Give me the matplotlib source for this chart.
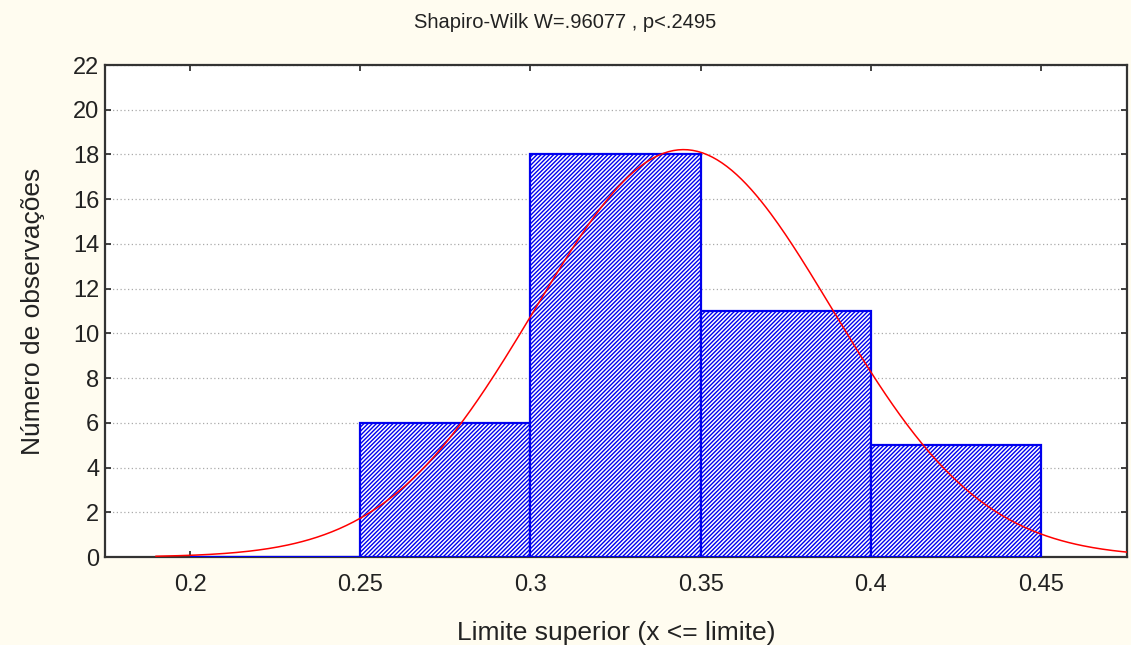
import numpy as np
import matplotlib.pyplot as plt

plt.rcParams['font.family'] = ['Liberation Sans', 'DejaVu Sans']
plt.rcParams['hatch.linewidth'] = 1.0
plt.rcParams['hatch.color'] = '#0000ee'

# histogram: upper limits of each class and counts
bin_left = [0.20, 0.25, 0.30, 0.35, 0.40]
counts = [0, 6, 18, 11, 5]
bin_width = 0.05
n_obs = 40

# fitted normal curve parameters
mu = 0.345
sigma = 0.0438

x_ticks = [0.2, 0.25, 0.3, 0.35, 0.4, 0.45]
x_tick_labels = ['0.2', '0.25', '0.3', '0.35', '0.4', '0.45']
y_ticks = list(range(0, 23, 2))

bg = '#fffcf0'
fig = plt.figure(figsize=(11.31, 6.45), dpi=100, facecolor=bg)
ax = fig.add_axes([105 / 1131, 1 - 557 / 645, 1022 / 1131, 492 / 645])
ax.set_facecolor('white')

ax.bar(bin_left, counts, width=bin_width, align='edge', facecolor='white',
       edgecolor='#0000ee', linewidth=1.6, hatch='/' * 8, zorder=3)

xs = np.linspace(0.19, 0.476, 400)
ys = n_obs * bin_width / (sigma * np.sqrt(2 * np.pi)) * np.exp(-0.5 * ((xs - mu) / sigma) ** 2)
ax.plot(xs, ys, color='#ff0000', linewidth=1.1, zorder=4)

ax.set_xlim(0.175, 0.4753)
ax.set_ylim(0, 22)
ax.set_xticks(x_ticks)
ax.set_xticklabels(x_tick_labels)
ax.set_yticks(y_ticks)
ax.yaxis.grid(True, linestyle=(0, (1, 2)), color='#aaaaaa', linewidth=0.9, zorder=0)
ax.set_axisbelow(True)

ax.tick_params(direction='in', length=4, width=1.2, top=True, right=True,
               labelsize=17, colors='#222222')
ax.tick_params(axis='x', pad=12)
ax.tick_params(axis='y', pad=4)
for s in ax.spines.values():
    s.set_linewidth(1.6)
    s.set_color('#333333')

ax.set_xlabel('Limite superior (x <= limite)', fontsize=19, labelpad=18, color='#222222')
ax.set_ylabel('Número de observações', fontsize=19, labelpad=20, color='#222222')
fig.text(0.5, 1 - 22 / 645, 'Shapiro-Wilk W=.96077 , p<.2495', ha='center', va='center',
         fontsize=14.5, color='#222222')

fig.savefig('out.png', dpi=100, facecolor=bg)
